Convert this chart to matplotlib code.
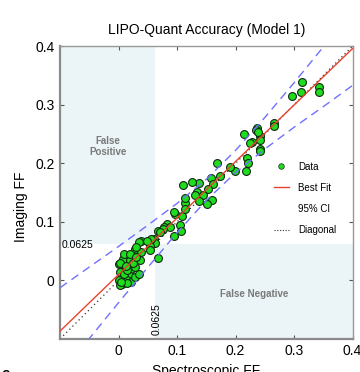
import numpy as np
import matplotlib
matplotlib.use("Agg")
import matplotlib.pyplot as plt
from matplotlib.patches import Rectangle
from matplotlib.lines import Line2D

plt.rcParams['font.family'] = ['Liberation Sans', 'DejaVu Sans']

# data (spectroscopic FF vs imaging FF)
spec_ff = [0.313, 0.297, 0.312, 0.342, 0.343, 0.237, 0.234, 0.266, 0.266, 0.242,
           0.242, 0.228, 0.242, 0.215, 0.238, 0.224, 0.241, 0.219, 0.221, 0.217,
           0.199, 0.168, 0.191, 0.158, 0.173, 0.162, 0.110, 0.138, 0.134, 0.152,
           0.131, 0.145, 0.138, 0.114, 0.160, 0.097, 0.108, 0.113, 0.095, 0.083,
           0.077, 0.105, 0.107, 0.094, 0.068, 0.060, 0.063, 0.054, 0.068, 0.088,
           0.076, 0.071, 0.054, 0.056, 0.039, 0.034, 0.048, 0.028, 0.025, 0.039,
           0.014, 0.011, 0.017, 0.005, 0.022, 0.008, 0.019, 0.005, 0.014, 0.000,
           0.005, 0.022, 0.028, 0.034, 0.028, 0.002, 0.000, 0.002, 0.014, 0.008,
           0.019, 0.037, 0.029, 0.010, 0.010, 0.003, 0.015, 0.025, 0.020, 0.030,
           0.012, 0.004, 0.114, 0.151, 0.125]
img_ff = [0.339, 0.315, 0.321, 0.331, 0.321, 0.260, 0.257, 0.269, 0.263, 0.247,
          0.240, 0.236, 0.224, 0.250, 0.254, 0.235, 0.221, 0.209, 0.201, 0.186,
          0.187, 0.200, 0.194, 0.174, 0.179, 0.165, 0.162, 0.166, 0.151, 0.156,
          0.145, 0.145, 0.135, 0.132, 0.137, 0.113, 0.110, 0.122, 0.116, 0.096,
          0.091, 0.094, 0.085, 0.076, 0.085, 0.071, 0.063, 0.059, 0.038, 0.091,
          0.088, 0.082, 0.051, 0.071, 0.068, 0.065, 0.068, 0.054, 0.042, 0.048,
          0.042, 0.034, 0.025, 0.022, 0.020, 0.014, 0.008, 0.005, 0.000, 0.000,
          -0.006, -0.003, 0.005, 0.011, 0.022, 0.014, 0.028, -0.008, -0.005, 0.037,
          0.034, 0.034, 0.057, 0.045, 0.010, 0.030, 0.018, 0.030, 0.045, 0.040,
          0.025, -0.002, 0.140, 0.131, 0.168]

fit_slope = 0.965
fit_intercept = 0.010
ci_x = [-0.1, -0.05, 0.0, 0.05, 0.1, 0.15, 0.2, 0.25, 0.3, 0.35, 0.4]
ci_half = [0.074, 0.061, 0.048, 0.036, 0.025, 0.018, 0.019, 0.027, 0.038, 0.051, 0.063]
cutoff = 0.0625

fig = plt.figure(figsize=(3.6, 3.72), dpi=100)
ax = fig.add_axes([0.167, 0.089, 0.8125, 0.787])
ax.set_xlim(-0.1, 0.4)
ax.set_ylim(-0.1, 0.4)

shade = '#ebf4f6'
ax.add_patch(Rectangle((-0.1, cutoff), cutoff + 0.1, 0.4 - cutoff, color=shade, lw=0, zorder=0))
ax.add_patch(Rectangle((cutoff, -0.1), 0.4 - cutoff, cutoff + 0.1, color=shade, lw=0, zorder=0))

ax.plot([-0.1, 0.4], [-0.1, 0.4], ls=(0, (1, 2.5)), color='#333333', lw=0.9, zorder=1)
ax.scatter(spec_ff, img_ff, s=32, color='#1fdc1f', edgecolors='#112a11', linewidths=0.8, zorder=2)

xs = np.array(ci_x)
fit = fit_slope * xs + fit_intercept
ax.plot(xs, fit, color='#e8432c', lw=1.0, zorder=3)
ax.plot(xs, fit + np.array(ci_half), color='#7070ff', lw=1.0, ls=(0, (6, 4)), zorder=3)
ax.plot(xs, fit - np.array(ci_half), color='#7070ff', lw=1.0, ls=(0, (6, 4)), zorder=3)

ax.text(-0.018, 0.228, 'False\nPositive', ha='center', va='center', fontsize=7,
        color='#7a7a7a', fontweight='bold', linespacing=1.1)
ax.text(0.232, -0.023, 'False Negative', ha='center', va='center', fontsize=7,
        color='#7a7a7a', fontweight='bold')
ax.text(-0.098, 0.061, '0.0625', ha='left', va='center', fontsize=7.5)
ax.text(0.0645, -0.093, '0.0625', ha='center', va='bottom', rotation=90, fontsize=7.5)

ax.set_xticks([0, 0.1, 0.2, 0.3, 0.4])
ax.set_yticks([0, 0.1, 0.2, 0.3, 0.4])
ax.set_xticklabels(['0', '0.1', '0.2', '0.3', '0.4'])
ax.set_yticklabels(['0', '0.1', '0.2', '0.3', '0.4'])
ax.tick_params(direction='in', length=3, width=0.8, color='#555555', labelsize=10,
               top=True, right=True, pad=4)
for side in ['left', 'bottom']:
    ax.spines[side].set_color('#8a8a8a')
    ax.spines[side].set_linewidth(1.6)
for side in ['top', 'right']:
    ax.spines[side].set_color('#999999')
    ax.spines[side].set_linewidth(1.0)

ax.set_title('LIPO-Quant Accuracy (Model 1)', fontsize=10, pad=9)
ax.set_xlabel('Spectroscopic FF', fontsize=10)
ax.set_ylabel('Imaging FF', fontsize=10)
ax.yaxis.set_label_coords(-0.11, 0.45)

handles = [
    Line2D([], [], ls='none', marker='o', markersize=4, color='#1fdc1f', markeredgecolor='#112a11', markeredgewidth=0.5),
    Line2D([], [], color='#e8432c', lw=1.0),
    Line2D([], [], color='none'),
    Line2D([], [], color='#333333', lw=0.8, ls=(0, (1, 1.5))),
]
ax.legend(handles, ['Data', 'Best Fit', '95% CI', 'Diagonal'], loc='center left',
          bbox_to_anchor=(0.7, 0.48), frameon=False, fontsize=7, handlelength=1.6,
          handletextpad=0.9, labelspacing=1.15)

fig.text(0.005, -0.005, 'e', fontsize=11, fontweight='bold', va='center', ha='left')

fig.savefig('out.png', dpi=100)
